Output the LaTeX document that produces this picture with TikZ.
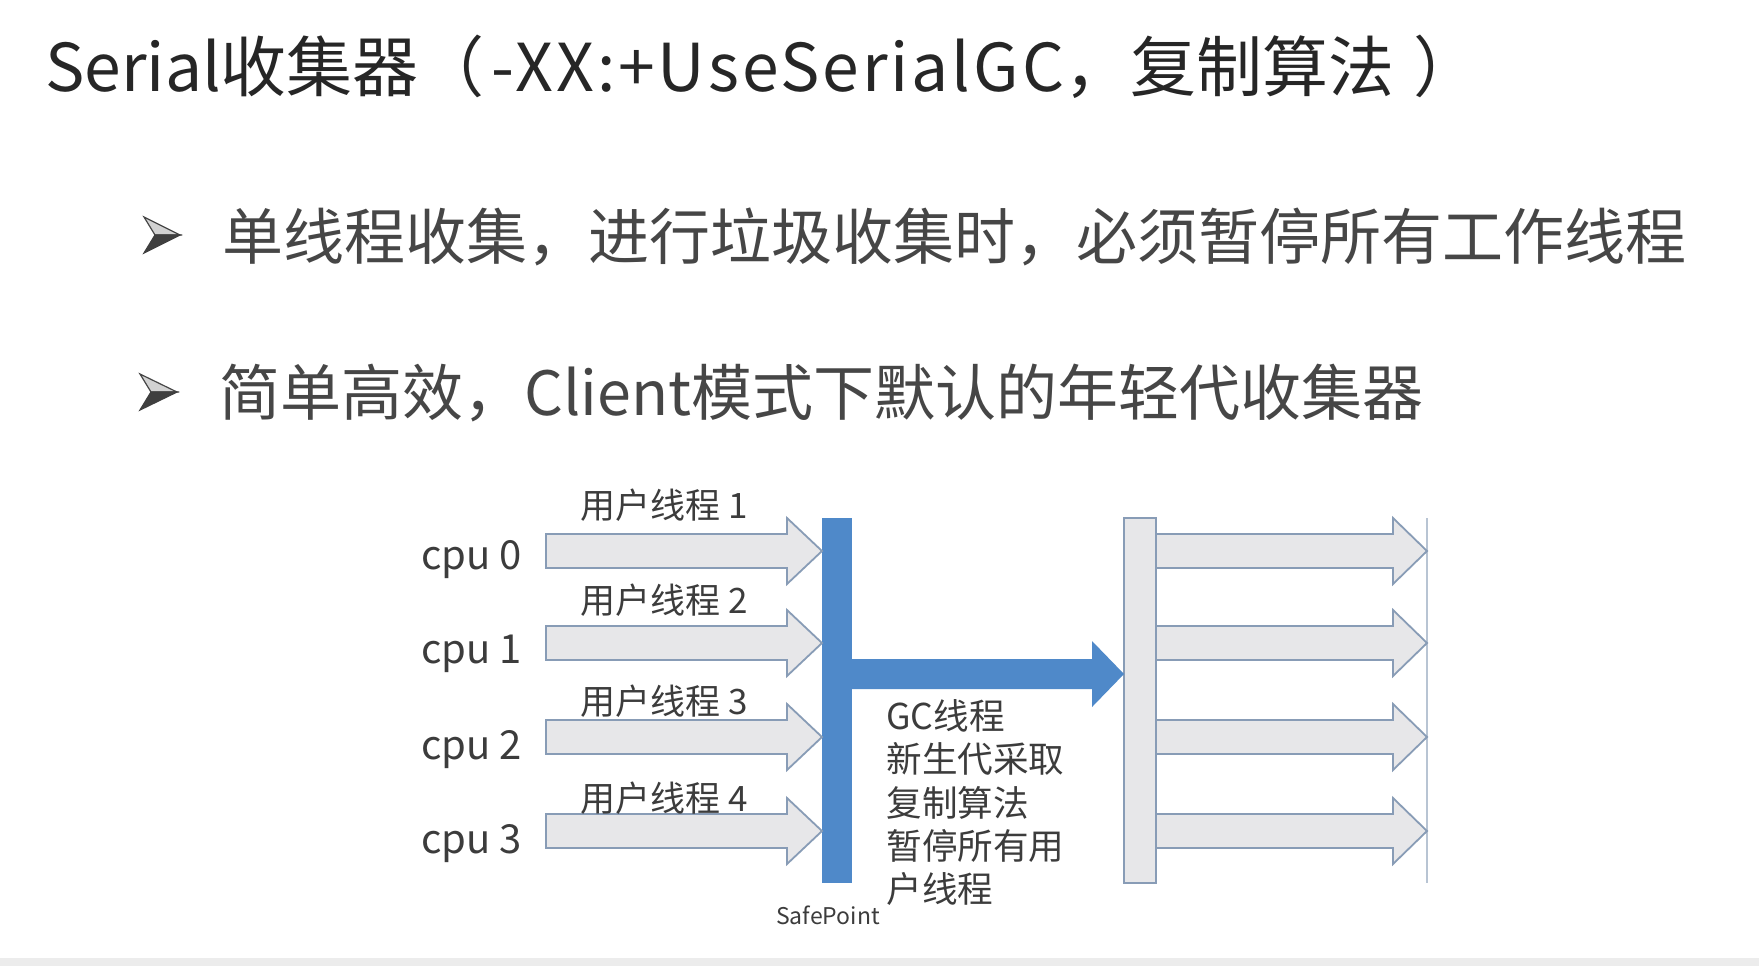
\documentclass[tikz,border=0pt]{standalone}
\usepackage{fontspec}
\setmainfont{Noto Sans CJK SC}
\definecolor{titlecol}{RGB}{38,38,38}
\definecolor{bulcol}{RGB}{70,70,70}
\definecolor{labcol}{RGB}{60,60,60}
\definecolor{spblue}{RGB}{79,137,201}
\definecolor{arrfill}{RGB}{231,231,233}
\definecolor{arredge}{RGB}{136,156,182}
\definecolor{stripgray}{RGB}{236,236,236}
\tikzset{
  titletext/.style={anchor=west, inner sep=0pt, text=titlecol, font=\fontsize{33}{40}\selectfont},
  bullettext/.style={anchor=west, inner sep=0pt, text=bulcol, font=\fontsize{30.5}{36}\selectfont},
  cpulabel/.style={anchor=base west, inner sep=0pt, text=labcol, font=\fontsize{20}{23}\selectfont},
  thrlabel/.style={anchor=west, inner sep=0pt, text=labcol, font=\fontsize{17.5}{20}\selectfont},
  gcnote/.style={anchor=north west, inner sep=0pt, align=left, text=labcol, font=\fontsize{17.8}{21.7}\selectfont},
  sptext/.style={anchor=center, inner sep=0pt, text=labcol, font=\fontsize{11.5}{13}\selectfont},
  bluebar/.style={rectangle, fill=spblue, draw=none, inner sep=0pt, minimum width=15pt, minimum height=182.5pt},
  graybar/.style={rectangle, fill=arrfill, draw=arredge, line width=0.8pt, inner sep=0pt, minimum width=16pt, minimum height=182.5pt},
  userarrow/.style={fill=arrfill, draw=arredge, line width=0.9pt, line join=miter},
  gcarrow/.style={fill=spblue, draw=none},
  bulletlight/.style={fill=gray!35, draw=bulcol, line width=0.6pt, line join=miter},
  bulletdark/.style={fill=bulcol!90!black, draw=bulcol!90!black, line width=0.6pt, line join=miter},
  endline/.style={draw=arredge!60, line width=0.6pt}
}
% block arrow: style, x start, x tip, y centre, body half, head half, head length
\newcommand\blk[7]{\draw[#1] (#2,{#4-#5}) -- ({#3-#7},{#4-#5}) -- ({#3-#7},{#4-#6}) -- (#3,#4) -- ({#3-#7},{#4+#6}) -- ({#3-#7},{#4+#5}) -- (#2,{#4+#5}) -- cycle;}
\begin{document}
\begin{tikzpicture}[x=0.5pt,y=-0.5pt]
\useasboundingbox (0,0) rectangle (1759,966);
\fill[white] (0,0) rectangle (1759,966);
\fill[stripgray] (0,958) rectangle (1759,966);

% title and bullets
\node[titletext] (title) at (45,67) {Serial收集器（\hspace{0.1em}{\addfontfeature{LetterSpace=4.5}-XX:+UseSerialGC}，复制算法\hspace{0.3em}）};
\fill[bulletlight] (144,217) -- (180,235) -- (155,235) -- cycle;
\fill[bulletdark] (155,235) -- (180,235) -- (144,253) -- cycle;
\node[bullettext] (b1) at (222,237) {单线程收集，进行垃圾收集时，必须暂停所有工作线程};
\fill[bulletlight] (140,374) -- (177,392) -- (151,392) -- cycle;
\fill[bulletdark] (151,392) -- (177,392) -- (140,410) -- cycle;
\node[bullettext] (b2) at (219,393) {简单高效，Client模式下默认的年轻代收集器};

% bars
\node[bluebar] (sp) at (837,700.5) {};
\node[graybar] (ge) at (1140,700.5) {};
\draw[endline] (1427,518) coordinate (lt) -- (1427,883) coordinate (lb);

% user thread arrows (left)
\blk{userarrow}{546}{822}{551}{17}{33}{35}
\blk{userarrow}{546}{822}{643}{17}{33}{35}
\blk{userarrow}{546}{822}{737}{17}{33}{35}
\blk{userarrow}{546}{822}{831}{17}{33}{35}

% user thread arrows (right)
\blk{userarrow}{1156}{1427}{551}{17}{33}{34}
\blk{userarrow}{1156}{1427}{643}{17}{33}{34}
\blk{userarrow}{1156}{1427}{737}{17}{33}{34}
\blk{userarrow}{1156}{1427}{831}{17}{33}{34}

% GC arrow
\blk{gcarrow}{852}{1124}{674}{15}{33}{32}

% labels
\node[cpulabel] (c0) at (421,569) {cpu 0};
\node[cpulabel] (c1) at (421,663) {cpu 1};
\node[cpulabel] (c2) at (421,759) {cpu 2};
\node[cpulabel] (c3) at (421,853) {cpu 3};
\node[thrlabel] (t1) at (580,505) {用户线程 1};
\node[thrlabel] (t2) at (580,600) {用户线程 2};
\node[thrlabel] (t3) at (580,701) {用户线程 3};
\node[thrlabel] (t4) at (580,798) {用户线程 4};
\node[gcnote] (gc) at (886,699) {GC线程\\新生代采取\\复制算法\\暂停所有用\\户线程};
\node[sptext] (spl) at (828,915) {SafePoint};
\end{tikzpicture}
\end{document}
